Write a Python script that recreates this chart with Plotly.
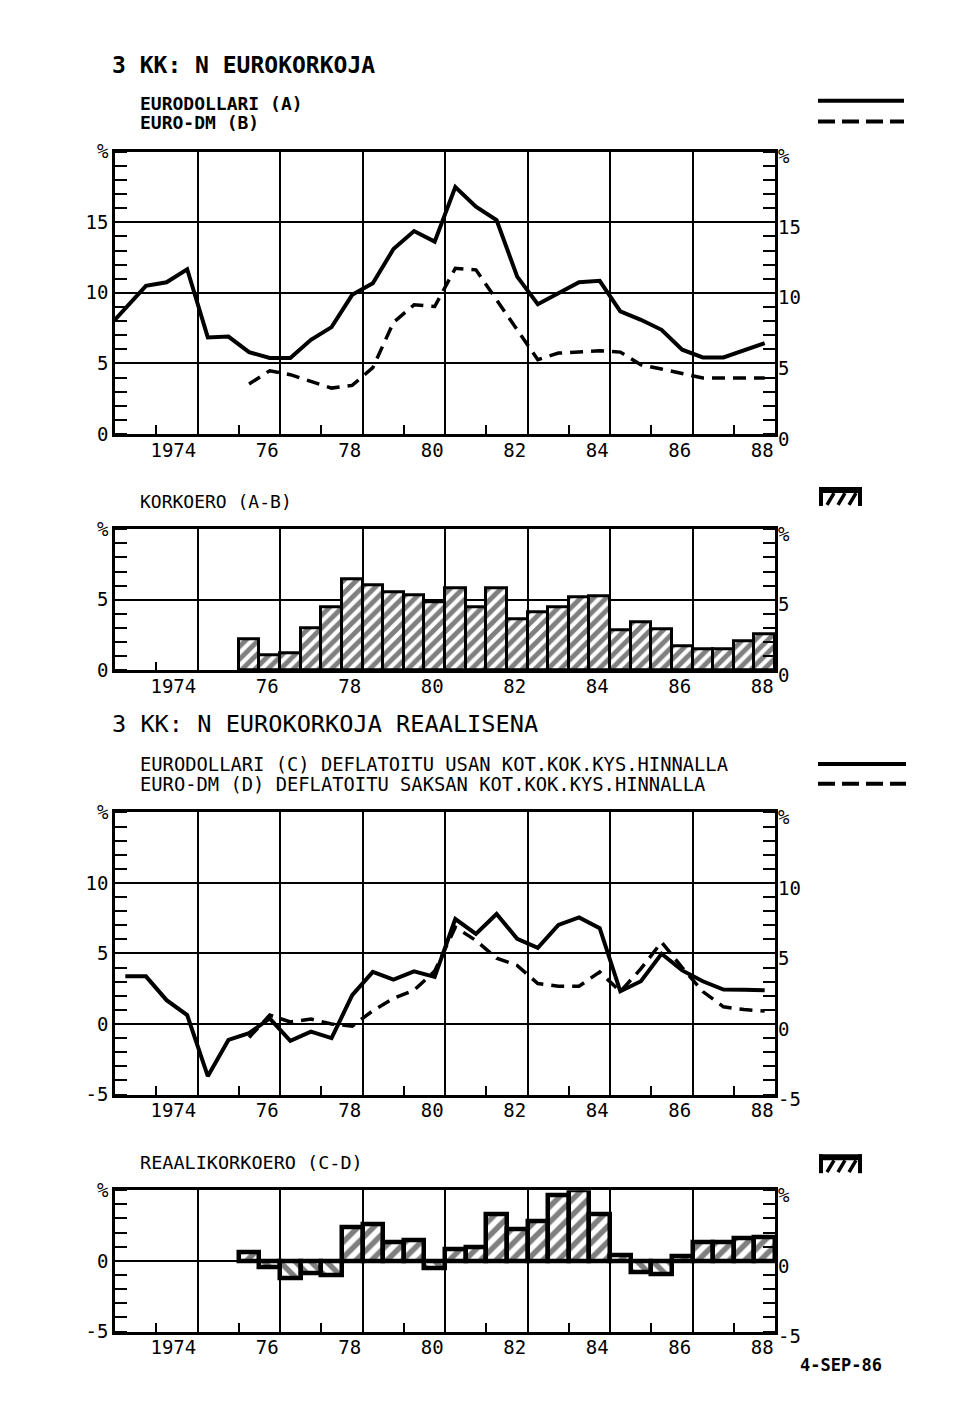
import plotly.graph_objects as go

W, H = 960, 1418
FONT = "DejaVu Sans Mono"

# ---------------- data ----------------
periods = [1973.25, 1973.75, 1974.25, 1974.75, 1975.25, 1975.75, 1976.25, 1976.75,
           1977.25, 1977.75, 1978.25, 1978.75, 1979.25, 1979.75, 1980.25, 1980.75,
           1981.25, 1981.75, 1982.25, 1982.75, 1983.25, 1983.75, 1984.25, 1984.75,
           1985.25, 1985.75, 1986.25, 1986.75, 1987.25, 1987.75, 1988.25, 1988.75]
dm_periods = periods[6:]
eurodollar_x = [1973.0] + periods[1:]

# 3 kk eurodollari (A)
eurodollar = [8.1, 10.5, 10.75, 11.67, 6.84, 6.9, 5.8, 5.38,
              5.38, 6.67, 7.57, 9.86, 10.68, 13.1, 14.38, 13.63,
              17.5, 16.1, 15.16, 11.15, 9.19, 9.97, 10.75, 10.85,
              8.68, 8.09, 7.38, 5.97, 5.42, 5.42, 5.93, 6.44]
# 3 kk euro-DM (B)
eurodm = [3.54, 4.48, 4.2, 3.73, 3.25, 3.44, 4.7, 7.9,
          9.15, 9.03, 11.74, 11.63, 9.52, 7.43, 5.26, 5.73,
          5.8, 5.9, 5.8, 4.9, 4.6, 4.31, 3.96, 3.96, 3.96, 3.96]
# korkoero (A-B)
korkoero = [2.2, 1.06, 1.22, 3.0, 4.5, 6.43, 6.06, 5.52, 5.35, 4.8,
            5.82, 4.5, 5.82, 3.64, 4.11, 4.5, 5.16, 5.28, 2.82, 3.4,
            2.93, 1.71, 1.53, 1.53, 2.07, 2.58]
# reaalinen eurodollari (C)
real_usd = [3.38, 3.38, 1.69, 0.63, -3.7, -1.13, -0.65, 0.4,
            -1.2, -0.54, -1.0, 2.04, 3.69, 3.15, 3.73, 3.34,
            7.44, 6.39, 7.8, 6.04, 5.4, 7.02, 7.56, 6.79,
            2.32, 3.03, 4.98, 3.8, 3.03, 2.44, 2.42, 2.39]
# reaalinen euro-DM (D)
real_dm = [-0.96, 0.63, 0.15, 0.35, 0.0, -0.15, 0.94, 1.81,
           2.39, 3.75, 6.86, 5.92, 4.67, 4.15, 2.87, 2.68,
           2.68, 3.69, 2.3, 3.92, 5.8, 4.0, 2.3, 1.22, 1.02, 0.92]
# reaalikorkoero (C-D)
reaaliero = [0.64, -0.43, -1.19, -0.9, -1.02, 2.38, 2.62, 1.31, 1.43, -0.55,
             0.81, 1.0, 3.33, 2.24, 2.79, 4.62, 5.0, 3.33, 0.4, -0.79,
             -0.95, 0.33, 1.29, 1.29, 1.6, 1.71]

year_ticks = [1975, 1977, 1979, 1981, 1983, 1985, 1987, 1989]
year_labels = ["1974", "76", "78", "80", "82", "84", "86", "88"]

# ---------------- layout helpers ----------------
# vertical calibration of the captured page (observed offset / scale)
Y_OFF, Y_SCALE = 8.0, 0.985

def px_y(p):
    return 1 - ((p - Y_OFF) / Y_SCALE) / H

def px_x(p):
    return p / W

X0, X1 = 115, 775
panels = [
    dict(top=149.3, bottom=432.7, rng=[0, 20], tv=[0, 5, 10, 15, 20], tt=["0", "5", "10", "15", "%"]),
    dict(top=528.3, bottom=670.0, rng=[0, 10], tv=[0, 5, 10], tt=["0", "5", "%"]),
    dict(top=812.7, bottom=1096.0, rng=[-5, 15], tv=[-5, 0, 5, 10, 15], tt=["-5", "0", "5", "10", "%"]),
    dict(top=1192.0, bottom=1334.0, rng=[-5, 5], tv=[-5, 0, 5], tt=["-5", "0", "%"]),
]

fig = go.Figure()

# panel 1 lines
fig.add_trace(go.Scatter(x=eurodollar_x, y=eurodollar, mode="lines", xaxis="x", yaxis="y",
                         line=dict(color="black", width=4), showlegend=False, hoverinfo="skip"))
fig.add_trace(go.Scatter(x=dm_periods, y=eurodm, mode="lines", xaxis="x", yaxis="y",
                         line=dict(color="black", width=3.5, dash="13px,8px"), showlegend=False, hoverinfo="skip"))

# panel 2 bars
fig.add_trace(go.Bar(x=dm_periods, y=korkoero, width=0.5, xaxis="x2", yaxis="y2",
                     marker=dict(color="white", line=dict(color="black", width=3),
                                 pattern=dict(shape="/", fgcolor="black", bgcolor="white",
                                              size=9, solidity=0.55)),
                     showlegend=False, hoverinfo="skip"))

# panel 3 lines
fig.add_trace(go.Scatter(x=periods, y=real_usd, mode="lines", xaxis="x3", yaxis="y3",
                         line=dict(color="black", width=4), showlegend=False, hoverinfo="skip"))
fig.add_trace(go.Scatter(x=dm_periods, y=real_dm, mode="lines", xaxis="x3", yaxis="y3",
                         line=dict(color="black", width=3.5, dash="13px,8px"), showlegend=False, hoverinfo="skip"))

# panel 4 bars
fig.add_trace(go.Bar(x=dm_periods, y=reaaliero, width=0.5, xaxis="x4", yaxis="y4",
                     marker=dict(color="white", line=dict(color="black", width=4.5),
                                 pattern=dict(shape=["/" if v >= 0 else "\\" for v in reaaliero],
                                              fgcolor="black", bgcolor="white",
                                              size=11, solidity=0.5)),
                     showlegend=False, hoverinfo="skip"))

# empty traces to register right-hand axes
for i in range(1, 5):
    fig.add_trace(go.Scatter(x=[], y=[], xaxis="x" if i == 1 else f"x{i}", yaxis=f"y{i+4}",
                             showlegend=False, hoverinfo="skip"))

layout = dict(width=W, height=H, autosize=False, margin=dict(l=0, r=0, t=0, b=0),
              paper_bgcolor="white", plot_bgcolor="white", bargap=0,
              font=dict(family=FONT, color="black", size=19))

for i, p in enumerate(panels, start=1):
    xs = "" if i == 1 else str(i)
    dom_y = [px_y(p["bottom"]), px_y(p["top"])]
    layout[f"xaxis{xs}"] = dict(
        domain=[px_x(X0), px_x(X1)], range=[1973, 1989], anchor=f"y{xs}",
        tickmode="array", tickvals=year_ticks, ticktext=year_labels,
        ticklabelposition="outside left", ticks="", ticklabelstandoff=-3,
        showgrid=True, gridcolor="black", gridwidth=1.8, zeroline=False,
        showline=True, mirror=True, linecolor="black", linewidth=2.5,
        tickfont=dict(family=FONT, size=19, color="black"),
        minor=dict(tickmode="linear", tick0=1974, dtick=2, ticks="inside", ticklen=9,
                   tickwidth=2, tickcolor="black", showgrid=False),
        fixedrange=True)
    layout[f"yaxis{xs}"] = dict(
        domain=dom_y, range=p["rng"], anchor=f"x{xs}",
        tickmode="array", tickvals=p["tv"], ticktext=p["tt"], ticks="",
        ticklabelstandoff=0,
        showgrid=True, gridcolor="black", gridwidth=1.8, zeroline=False,
        showline=True, mirror=True, linecolor="black", linewidth=2.5,
        tickfont=dict(family=FONT, size=19, color="black"),
        minor=dict(tickmode="linear", tick0=0, dtick=1, ticks="inside", ticklen=12,
                   tickwidth=2, tickcolor="black", showgrid=False),
        fixedrange=True)
    layout[f"yaxis{i+4}"] = dict(
        domain=dom_y, range=p["rng"], anchor=f"x{xs}", overlaying=f"y{xs}", side="right",
        tickmode="array", tickvals=p["tv"], ticktext=p["tt"], ticks="",
        ticklabelshift=5, ticklabelstandoff=2,
        showgrid=False, zeroline=False, showline=False,
        tickfont=dict(family=FONT, size=19, color="black"),
        minor=dict(tickmode="linear", tick0=0, dtick=1, ticks="inside", ticklen=12,
                   tickwidth=2, tickcolor="black", showgrid=False),
        fixedrange=True)

def txt(x, y, s, size, bold=False):
    return dict(x=px_x(x), y=px_y(y), xref="paper", yref="paper", xanchor="left", yanchor="middle",
                text=f"<b>{s}</b>" if bold else s, showarrow=False,
                font=dict(family=FONT, size=size, color="black"))

annotations = [
    txt(110, 62, "3 KK: N EUROKORKOJA", 23, True),
    txt(138, 101, "EURODOLLARI (A)", 18, True),
    txt(138, 120, "EURO-DM (B)", 18, True),
    txt(138, 501, "KORKOERO (A-B)", 18),
    txt(110, 724, "3 KK: N EUROKORKOJA REAALISENA", 23.6),
    txt(138, 765, "EURODOLLARI (C) DEFLATOITU USAN KOT.KOK.KYS.HINNALLA", 18.8),
    txt(138, 785, "EURO-DM (D) DEFLATOITU SAKSAN KOT.KOK.KYS.HINNALLA", 18.8),
    txt(138, 1164, "REAALIKORKOERO (C-D)", 18.5),
    txt(798, 1368, "4-SEP-86", 17, True),
]

def hline(x0, x1, y, dash="solid", width=4):
    return dict(type="line", xref="paper", yref="paper", x0=px_x(x0), x1=px_x(x1),
                y0=px_y(y), y1=px_y(y), line=dict(color="black", width=width, dash=dash))

def seg(x0, y0, x1, y1, width=3):
    return dict(type="line", xref="paper", yref="paper", x0=px_x(x0), x1=px_x(x1),
                y0=px_y(y0), y1=px_y(y1), line=dict(color="black", width=width))

def bar_icon(x0, y0):
    out = [dict(type="rect", xref="paper", yref="paper", x0=px_x(x0), x1=px_x(x0 + 43),
                y0=px_y(y0 + 6), y1=px_y(y0), fillcolor="black", line=dict(width=0)),
           seg(x0 + 2, y0, x0 + 2, y0 + 19, 4), seg(x0 + 41, y0, x0 + 41, y0 + 19, 4)]
    for k in range(3):
        out.append(seg(x0 + 8 + 11 * k, y0 + 18, x0 + 15 + 11 * k, y0 + 6, 3.5))
    return out

shapes = [
    hline(818, 904, 98),
    hline(818, 904, 119, dash="17px,7px"),
    hline(818, 906, 764),
    hline(818, 906, 784, dash="17px,7px"),
] + bar_icon(819, 486) + bar_icon(819, 1156)

layout["annotations"] = annotations
layout["shapes"] = shapes
fig.update_layout(**layout)

fig.write_html("out.html")
